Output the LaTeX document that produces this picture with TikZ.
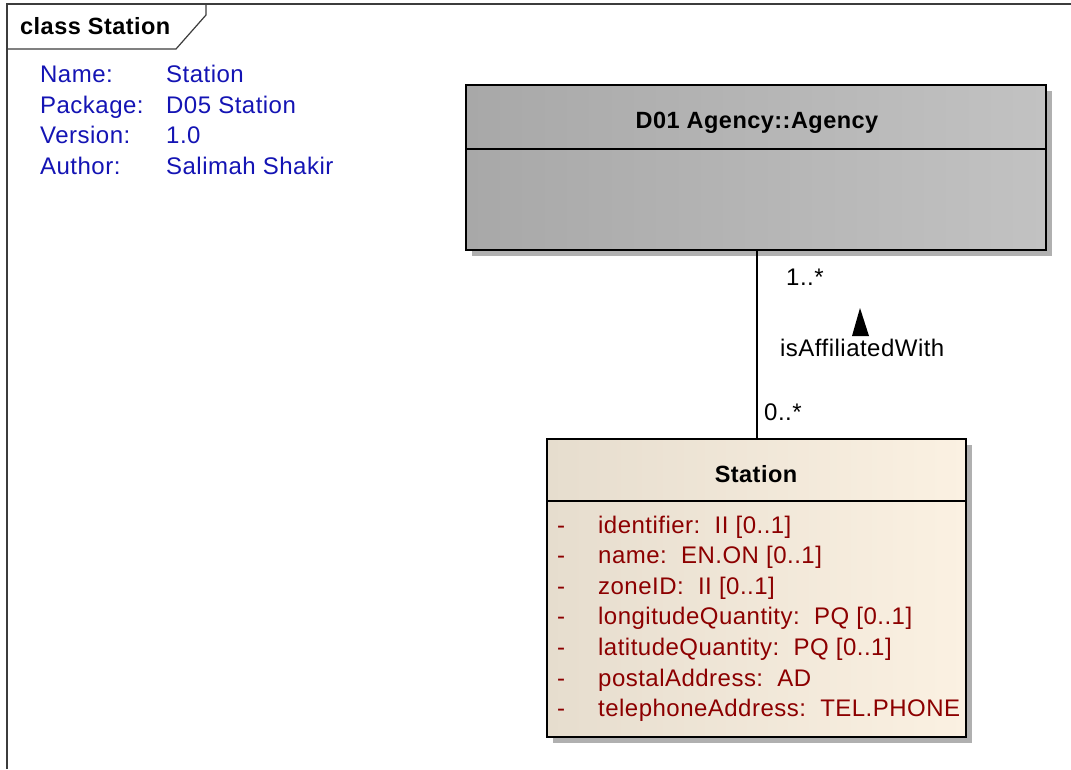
\documentclass[tikz,border=0pt]{standalone}
\usepackage{fontspec}
\setmainfont[LetterSpace=2]{Liberation Sans}
\definecolor{framegray}{RGB}{60,60,60}
\definecolor{shadowgray}{RGB}{176,176,176}
\definecolor{agL}{RGB}{168,168,168}
\definecolor{agR}{RGB}{194,194,194}
\definecolor{stL}{RGB}{230,221,206}
\definecolor{stR}{RGB}{251,241,226}
\definecolor{infoblue}{RGB}{20,20,180}
\definecolor{attrred}{RGB}{140,0,0}
\begin{document}
\begin{tikzpicture}[x=1pt,y=-1pt,
  txt/.style={font=\fontsize{24}{28}\selectfont, inner sep=0pt, anchor=base west},
  boldtxt/.style={font=\fontsize{23.5}{28}\selectfont\bfseries, inner sep=0pt, anchor=base},
  info/.style={txt, text=infoblue},
  attr/.style={txt, text=attrred},
  classbox/.style={draw=black, line width=2pt, rectangle, inner sep=0pt, anchor=north west},
  divider/.style={draw=black, line width=2pt},
  assoc/.style={draw=black, line width=1.6pt}]
\useasboundingbox (0,0) rectangle (1071,769);
\fill[white] (0,0) rectangle (1071,769);
% diagram frame
\draw[framegray, line width=1.2pt] (7,769) -- (7,4) -- (1071,4);
\draw[framegray, line width=1.2pt] (7,49) -- (176,49) -- (206,15) -- (206,4);
\node[txt, font=\fontsize{23.5}{28}\selectfont\bfseries] (frametitle) at (20,34) {class Station};
% info block
\node[info] (k1) at (40,82) {Name:};
\node[info] (v1) at (166,82) {Station};
\node[info] (k2) at (40,113) {Package:};
\node[info] (v2) at (166,113) {D05 Station};
\node[info] (k3) at (40,143) {Version:};
\node[info] (v3) at (166,143) {1.0};
\node[info] (k4) at (40,174) {Author:};
\node[info] (v4) at (166,174) {Salimah Shakir};
% Agency class
\fill[shadowgray] (472,91) rectangle (1052,256);
\node[classbox, left color=agL, right color=agR, minimum width=580pt, minimum height=165pt] (agency) at (465,84) {};
\draw[divider] ([yshift=-65pt]agency.north west) -- ([yshift=-65pt]agency.north east);
\node[boldtxt] (agencyname) at (757,128) {D01 Agency::Agency};
% Station class
\fill[shadowgray] (553,445) rectangle (972,743);
\node[classbox, left color=stL, right color=stR, minimum width=419pt, minimum height=298pt] (station) at (546,438) {};
\draw[divider] ([yshift=-63pt]station.north west) -- ([yshift=-63pt]station.north east);
\node[boldtxt] (stationname) at (756,482) {Station};
\foreach \t [count=\i] in {{identifier:~~II [0..1]},{name:~~EN.ON [0..1]},{zoneID:~~II [0..1]},{longitudeQuantity:~~PQ [0..1]},{latitudeQuantity:~~PQ [0..1]},{postalAddress:~~AD},{telephoneAddress:~~TEL.PHONE}} {
  \pgfmathsetmacro{\yy}{533+(\i-1)*30.65}
  \node[attr] (dash\i) at (557,\yy) {-};
  \node[attr] (attr\i) at (598,\yy) {\t};
}
% association
\draw[assoc] (agency.south -| 757,0) -- (station.north -| 757,0);
\node[txt] (mult1) at (786,285) {1..*};
\node[txt] (assocname) at (780,356) {isAffiliatedWith};
\node[txt] (mult0) at (764,420) {0..*};
\fill[black] (860,308) -- (852,336) -- (869,336) -- cycle;
\end{tikzpicture}
\end{document}
